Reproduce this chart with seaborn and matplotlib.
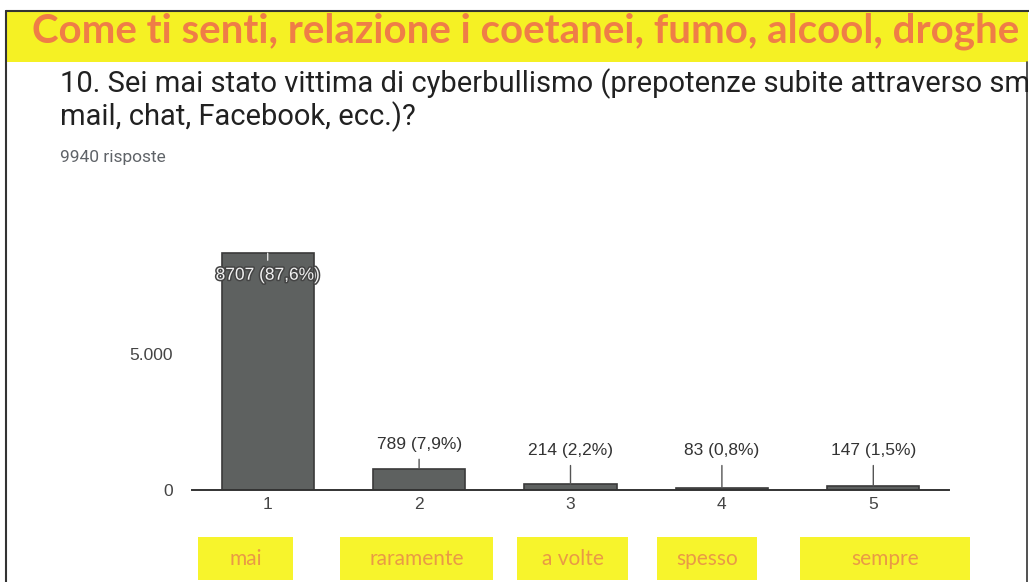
import matplotlib.pyplot as plt
import matplotlib.patheffects as pe
import seaborn as sns
import pandas as pd

# --- dati del grafico ---
titolo = "Come ti senti, relazione i coetanei, fumo, alcool, droghe"
domanda_1 = "10. Sei mai stato vittima di cyberbullismo (prepotenze subite attraverso sm"
domanda_2 = "mail, chat, Facebook, ecc.)?"
n_risposte = "9940 risposte"
categorie = ["1", "2", "3", "4", "5"]
risposte = [8707, 789, 214, 83, 147]
percentuali = ["87,6%", "7,9%", "2,2%", "0,8%", "1,5%"]
etichette = ["mai", "raramente", "a volte", "spesso", "sempre"]
yticks = [0, 5000]
ytick_labels = ["0", "5.000"]

df = pd.DataFrame({"valore": categorie, "risposte": risposte})

W, H = 1029, 582
sns.set_style("white")
plt.rcParams["font.family"] = ["Liberation Sans", "DejaVu Sans"]

fig = plt.figure(figsize=(W / 100, H / 100), dpi=100)
fig.patch.set_facecolor("white")
renderer = fig.canvas.get_renderer()


def px(x, y):
    # pixel (from top-left) -> figure fraction
    return x / W, 1 - y / H


def fit_text(x, y, s, width, **kw):
    # place text and scale font so it spans the given pixel width
    t = fig.text(*px(x, y), s, **kw)
    w = t.get_window_extent(renderer).width
    t.set_fontsize(t.get_fontsize() * width / w)
    return t


# banner giallo in alto
fig.patches.append(plt.Rectangle(px(7, 62), 1021 / W, 50 / H, transform=fig.transFigure,
                                 facecolor="#f5f124", edgecolor="none", zorder=0))
fit_text(32, 43, titolo, 986, family=["Liberation Sans Narrow", "Lato"], fontweight="bold",
         fontsize=24, color="#ef7d47", va="baseline")

# cornice
fig.add_artist(plt.Line2D([6 / W, 1], [1 - 11 / H, 1 - 11 / H], transform=fig.transFigure, color="#333333", lw=1.5))
fig.add_artist(plt.Line2D([6 / W, 6 / W], [0, 1 - 11 / H], transform=fig.transFigure, color="#333333", lw=1.5))
fig.add_artist(plt.Line2D([1027 / W, 1027 / W], [0, 1 - 62 / H], transform=fig.transFigure, color="#333333", lw=1.2))

# testo della domanda
q1 = fit_text(60, 92, domanda_1, 968, family=["Roboto", "DejaVu Sans"], fontsize=16,
              color="#212121", va="baseline")
fig.text(*px(60, 125), domanda_2, family=["Roboto", "DejaVu Sans"], fontsize=q1.get_fontsize(),
         color="#212121", va="baseline")
fig.text(*px(60, 162), n_risposte, family=["Roboto", "DejaVu Sans"], fontsize=12.5,
         color="#5f6368", va="baseline")

# --- grafico a barre ---
ax = fig.add_axes([192 / W, 1 - 490 / H, 757 / W, 272 / H])
sns.barplot(data=df, x="valore", y="risposte", color="#5e6160", saturation=1,
            width=0.61, edgecolor="#3a3a3a", linewidth=1.2, ax=ax)
ax.set_xlim(-0.5, 4.5)
ax.set_ylim(0, 10000)
ax.set_yticks(yticks)
ax.set_yticklabels(ytick_labels)
ax.set_xlabel("")
ax.set_ylabel("")
ax.set_facecolor("none")
for s in ["top", "right", "left"]:
    ax.spines[s].set_visible(False)
ax.spines["bottom"].set_color("#333333")
ax.spines["bottom"].set_linewidth(1.4)
ax.tick_params(axis="y", length=0, pad=13.5, labelsize=12.5, labelcolor="#444444")
ax.tick_params(axis="x", length=0, pad=5, labelsize=12.5, labelcolor="#444444")

for i, (v, p) in enumerate(zip(risposte, percentuali)):
    testo = f"{v} ({p})"
    if i == 0:
        t = ax.annotate(testo, xy=(i, v), xytext=(i, v - 810), ha="center", va="center",
                        fontsize=12.5, color="#f2f2f2",
                        arrowprops=dict(arrowstyle="-", color="#e0e0e0", lw=1, shrinkA=3, shrinkB=0))
        t.set_path_effects([pe.Stroke(linewidth=2.2, foreground="#444444"), pe.Normal()])
    else:
        ypos = max(v + 890, 1450)
        ax.annotate(testo, xy=(i, v), xytext=(i, ypos), ha="center", va="center",
                    fontsize=12.5, color="#333333",
                    arrowprops=dict(arrowstyle="-", color="#555555", lw=1, shrinkA=3, shrinkB=0))

# etichette gialle sotto il grafico
box_x = [(198, 293), (340, 493), (517, 628), (657, 757), (800, 970)]
for (x0, x1), lab in zip(box_x, etichette):
    fig.patches.append(plt.Rectangle(px(x0, 580), (x1 - x0) / W, 43 / H, transform=fig.transFigure,
                                     facecolor="#f7f42c", edgecolor="none", zorder=0))
    fig.text(*px((x0 + x1) / 2, 559), lab, family=["Liberation Sans Narrow", "Lato"], fontsize=15,
             color="#e99a45", ha="center", va="center")

fig.savefig("out.png", dpi=100)
